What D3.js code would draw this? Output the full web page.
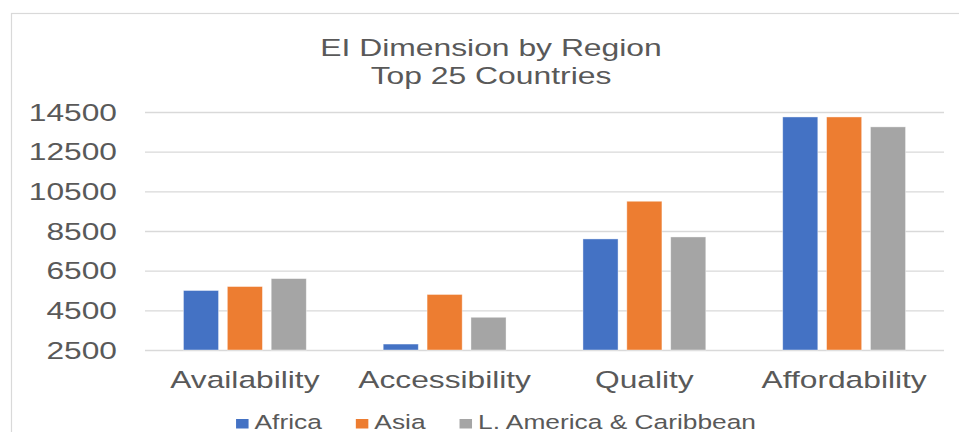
<!DOCTYPE html>
<html>
<head>
<meta charset="utf-8">
<script src="https://cdn.jsdelivr.net/npm/d3@7"></script>
<style>
  html, body { margin: 0; padding: 0; background: #fff; }
  svg { display: block; }
  text { font-family: "Liberation Sans", Arial, sans-serif; fill: #595959; }
</style>
</head>
<body>
<svg id="chart" width="959" height="432"></svg>
<script>
// ---- data ----
const titleLines = ["EI Dimension by Region", "Top 25 Countries"];
const categories = ["Availability", "Accessibility", "Quality", "Affordability"];
const seriesNames = ["Africa", "Asia", "L. America & Caribbean"];
const africa = [5500, 2800, 8100, 14250];
const asia = [5700, 5300, 10000, 14250];
const latam = [6100, 4150, 8200, 13750];
const yTicks = [2500, 4500, 6500, 8500, 10500, 12500, 14500];
const colors = ["#4472C4", "#ED7D31", "#A5A5A5"];

const seriesValues = [africa, asia, latam];
const rows = categories.map((c, i) => ({
  category: c,
  values: seriesNames.map((s, j) => ({ series: s, idx: j, value: seriesValues[j][i] }))
}));

// ---- layout ----
const SX = 1.35; // horizontal stretch of text as in the reference
const svg = d3.select("#chart");
const plot = { left: 145, right: 944, top: 112, bottom: 350 };

function stretchedText(sel, x, y, size, anchor) {
  return sel.append("text")
    .attr("transform", `translate(${x},${y}) scale(${SX},1)`)
    .attr("text-anchor", anchor || "middle")
    .style("font-size", size + "px");
}

// chart border
svg.append("rect")
  .attr("x", 11.5).attr("y", 13.5)
  .attr("width", 960).attr("height", 430)
  .attr("fill", "none").attr("stroke", "#D9D9D9").attr("stroke-width", 1.2);

// title
stretchedText(svg, 491, 56, 23.6).text(titleLines[0]);
stretchedText(svg, 491, 84, 23.6).text(titleLines[1]);

// scales
const y = d3.scaleLinear().domain([2500, 14500]).range([plot.bottom, plot.top]);
const x0 = d3.scaleBand().domain(categories).range([plot.left, plot.right])
  .paddingInner(0.385).paddingOuter(0.1925);
const x1 = d3.scaleBand().domain(seriesNames).range([0, x0.bandwidth()])
  .paddingInner(0.2).paddingOuter(0);

// gridlines
const yAxis = d3.axisLeft(y).tickValues(yTicks)
  .tickSize(-(plot.right - plot.left)).tickFormat("");
const gy = svg.append("g").attr("transform", `translate(${plot.left},0)`).call(yAxis);
gy.select(".domain").remove();
gy.selectAll(".tick line").attr("stroke", "#D9D9D9").attr("stroke-width", 1.3);

// y tick labels
yTicks.forEach(t => {
  stretchedText(svg, 117, y(t) + 8.5, 23.5, "end").text(String(t));
});

// bars
const groups = svg.append("g").selectAll("g")
  .data(rows).join("g")
  .attr("transform", d => `translate(${x0(d.category)},0)`);
groups.selectAll("rect")
  .data(d => d.values).join("rect")
  .attr("x", d => x1(d.series))
  .attr("width", x1.bandwidth())
  .attr("y", d => y(d.value))
  .attr("height", d => y(2500) - y(d.value))
  .attr("fill", d => colors[d.idx])
  .attr("stroke", "#fff").attr("stroke-width", 0.8).attr("stroke-opacity", 0.5);

// category labels
categories.forEach(c => {
  stretchedText(svg, x0(c) + x0.bandwidth() / 2, 388, 23.5).text(c);
});

// legend
const legend = svg.append("g");
const legendSize = 19.5;
const sq = { w: 12.5, h: 9.5 };
const gapAfterSq = 6;
const itemGap = 34;
let cursor = 0;
seriesNames.forEach((s, i) => {
  const g = legend.append("g");
  g.append("rect").attr("x", cursor).attr("y", -9.5)
    .attr("width", sq.w).attr("height", sq.h).attr("fill", colors[i]);
  const t = g.append("text")
    .attr("transform", `translate(${cursor + sq.w + gapAfterSq},0) scale(${SX},1)`)
    .attr("text-anchor", "start")
    .style("font-size", legendSize + "px").text(s);
  const w = t.node().getComputedTextLength() * SX;
  cursor += sq.w + gapAfterSq + w + itemGap;
});
const totalW = cursor - itemGap;
legend.attr("transform", `translate(${496 - totalW / 2},428.5)`);
</script>
</body>
</html>
